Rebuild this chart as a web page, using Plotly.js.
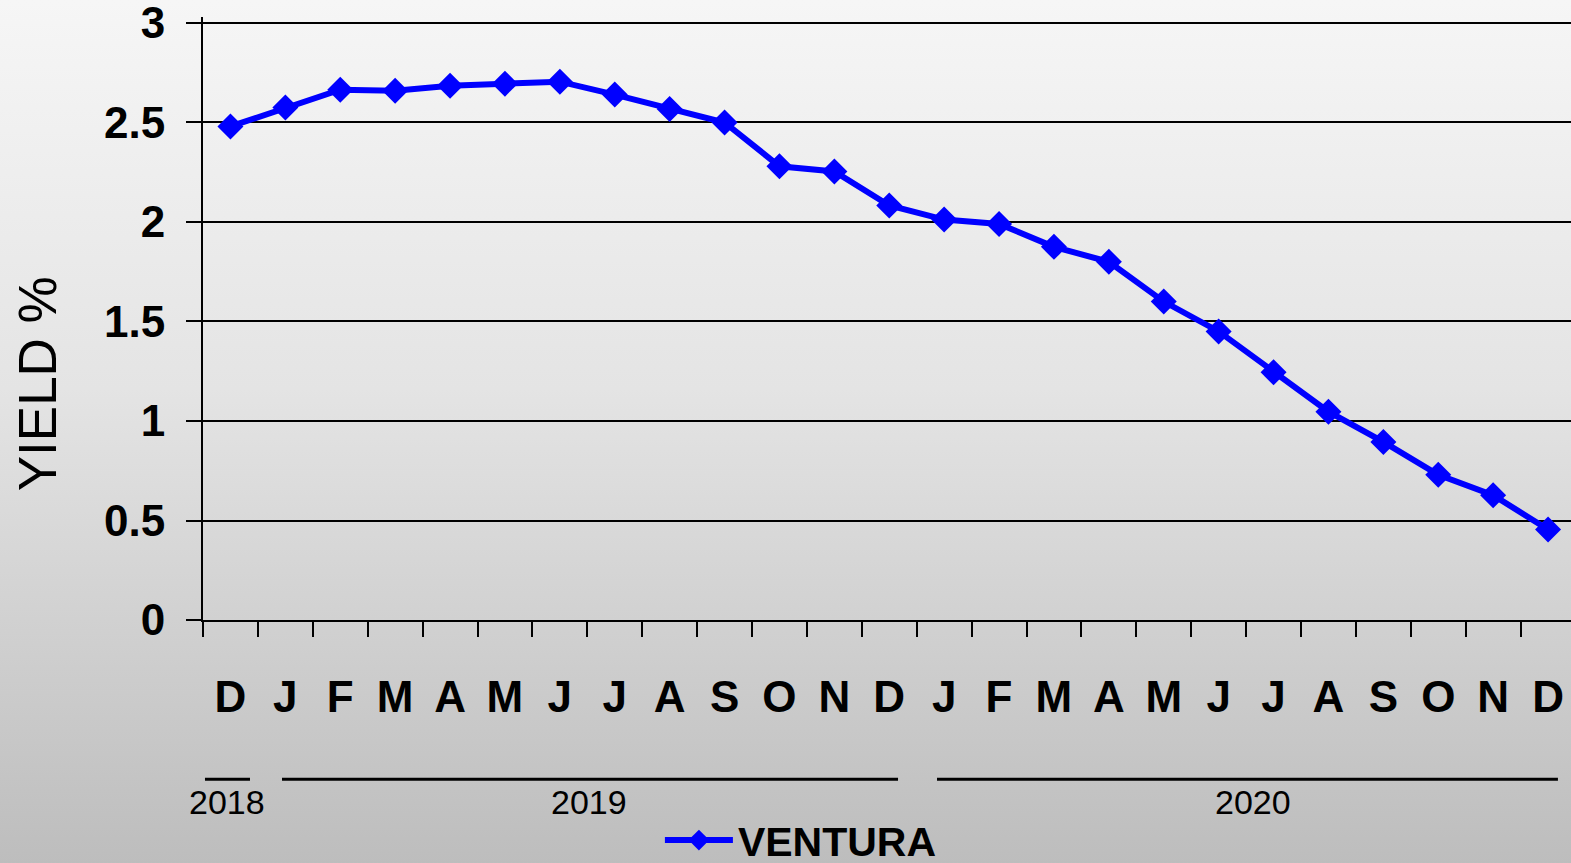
<!DOCTYPE html>
<html>
<head>
<meta charset="utf-8">
<script src="https://cdn.plot.ly/plotly-3.0.1.min.js"></script>
<style>
html, body { margin:0; padding:0; width:1571px; height:863px; overflow:hidden;
  background: linear-gradient(to bottom, #f6f6f6 0%, #e4e4e4 45%, #bdbdbd 100%); }
#chart { width:1571px; height:863px; }
</style>
</head>
<body>
<div id="chart"></div>
<script>
// Data
const monthLabels = ["D","J","F","M","A","M","J","J","A","S","O","N","D","J","F","M","A","M","J","J","A","S","O","N","D"];
const yieldValues = [2.48,2.575,2.665,2.66,2.685,2.695,2.705,2.64,2.568,2.50,2.28,2.254,2.083,2.012,1.99,1.875,1.80,1.60,1.45,1.245,1.047,0.895,0.73,0.627,0.455];
const seriesName = "VENTURA";
const yAxisTitle = "YIELD %";
const yearLabels = ["2018","2019","2020"];
const yTickVals = [0,0.5,1,1.5,2,2.5,3];
const yTickText = ["0","0.5","1","1.5","2","2.5","3"];

const idx = monthLabels.map((_, i) => i);
const boundaries = monthLabels.map((_, i) => i - 0.5);

const trace = {
  x: idx, y: yieldValues, name: seriesName, type: 'scatter', mode: 'lines+markers',
  line: {color: '#0000ff', width: 6},
  marker: {symbol: 'diamond', size: 20, color: '#0000ff'},
  cliponaxis: false
};

const font = "'Liberation Sans', Arial, sans-serif";
const pxPer = 54.9;
const plotW = 1571 - 203;

// year bracket lines (positions in axis units)
const yearSpans = [[-0.464, 0.356], [0.939, 12.16], [12.87, 24.18]];
const yearCenters = [-0.072, 6.53, 18.63];
const shapes = yearSpans.map(s => ({
  type: 'line', xref: 'x', yref: 'paper', x0: s[0], x1: s[1], y0: -0.264, y1: -0.264,
  line: {color: '#000', width: 3}
}));
const annotations = yearLabels.map((t, i) => ({
  text: t, xref: 'x', yref: 'paper', x: yearCenters[i], y: -0.302, showarrow: false,
  xanchor: 'center', yanchor: 'middle', font: {family: font, size: 34, color: '#000'}
}));
annotations.push({
  text: yAxisTitle, xref: 'paper', yref: 'paper', x: -0.1213, y: 0.391, showarrow: false,
  textangle: -90, xanchor: 'center', yanchor: 'middle', font: {family: font, size: 53, color: '#000'}
});

const layout = {
  width: 1571, height: 863,
  margin: {l: 203, r: 0, t: 17, b: 243, autoexpand: false},
  paper_bgcolor: 'rgba(0,0,0,0)', plot_bgcolor: 'rgba(0,0,0,0)',
  showlegend: true,
  legend: {orientation: 'h', x: 0.334, xanchor: 'left', y: -0.31, yanchor: 'top',
           itemwidth: 68,
           font: {family: font, size: 41, color: '#000', weight: 700},
           bgcolor: 'rgba(0,0,0,0)'},
  xaxis: {
    range: [-0.5, -0.5 + plotW / pxPer], tickmode: 'array', tickvals: idx, ticktext: monthLabels,
    ticks: '', showgrid: false, zeroline: false, showline: true, linecolor: '#000', linewidth: 2,
    tickfont: {family: font, size: 44, color: '#000', weight: 700}, ticklabelstandoff: 37,
    ticklabeloverflow: 'allow',
    minor: {tickmode: 'array', tickvals: boundaries, ticks: 'outside', ticklen: 15, tickwidth: 2, tickcolor: '#000', showgrid: false},
    fixedrange: true
  },
  yaxis: {
    range: [0, 3.03], tickmode: 'array', tickvals: yTickVals, ticktext: yTickText,
    ticks: 'outside', ticklen: 15, tickwidth: 2, tickcolor: '#000',
    showgrid: true, gridcolor: '#000', gridwidth: 2, zeroline: false,
    showline: true, linecolor: '#000', linewidth: 2,
    tickfont: {family: font, size: 44, color: '#000', weight: 700}, ticklabelstandoff: 12,
    ticklabeloverflow: 'allow',
    fixedrange: true
  },
  shapes: shapes,
  annotations: annotations
};

Plotly.newPlot('chart', [trace], layout, {displayModeBar: false, staticPlot: true});
</script>
</body>
</html>
